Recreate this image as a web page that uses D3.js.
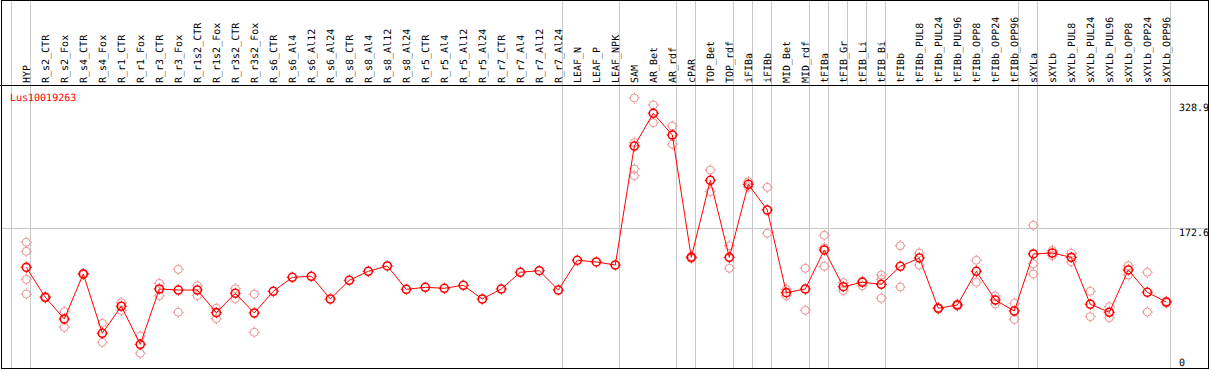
<!DOCTYPE html>
<html>
<head>
<meta charset="utf-8">
<script src="https://cdn.jsdelivr.net/npm/d3@7"></script>
<style>
  body { margin: 0; background: #fff; }
  svg { display: block; }
  text { font-family: "DejaVu Sans Mono", monospace; font-size: 10px; text-rendering: geometricPrecision; }
</style>
</head>
<body>
<svg id="chart"></svg>
<script>
// sample names (columns)
let samples = ['HYP','R_s2_CTR','R_s2_Fox','R_s4_CTR','R_s4_Fox','R_r1_CTR','R_r1_Fox','R_r3_CTR','R_r3_Fox',
  'R_r1s2_CTR','R_r1s2_Fox','R_r3s2_CTR','R_r3s2_Fox','R_s6_CTR','R_s6_Al4','R_s6_Al12','R_s6_Al24',
  'R_s8_CTR','R_s8_Al4','R_s8_Al12','R_s8_Al24','R_r5_CTR','R_r5_Al4','R_r5_Al12','R_r5_Al24',
  'R_r7_CTR','R_r7_Al4','R_r7_Al12','R_r7_Al24','LEAF_N','LEAF_P','LEAF_NPK','SAM','AR_Bet','AR_rdf',
  'cPAR','TOP_Bet','TOP_rdf','iFIBa','iFIBb','MID_Bet','MID_rdf','tFIBa','tFIB_Gr','tFIB_Li','tFIB_Bi',
  'tFIBb','tFIBb_PUL8','tFIBb_PUL24','tFIBb_PUL96','tFIBb_OPP8','tFIBb_OPP24','tFIBb_OPP96',
  'sXYLa','sXYLb','sXYLb_PUL8','sXYLb_PUL24','sXYLb_PUL96','sXYLb_OPP8','sXYLb_OPP24','sXYLb_OPP96'];

// mean expression per sample
let means = [123.4, 85.9, 58.8, 115.1, 40.9, 74.7, 27.1, 96.3, 95.0,
  95.0, 66.7, 90.9, 66.3, 93.4, 110.9, 112.2, 83.8,
  107.2, 118.4, 125.1, 95.9, 98.4, 97.2, 100.9, 83.8,
  96.3, 117.2, 119.2, 95.0, 132.2, 130.1, 126.3, 275.1, 316.0, 288.9,
  135.9, 232.2, 135.9, 227.2, 195.1, 91.7, 96.3, 145.1, 99.2, 104.7, 102.2,
  124.7, 135.1, 72.2, 76.3, 118.4, 82.5, 68.8,
  140.1, 141.3, 135.9, 77.2, 67.2, 120.1, 92.2, 80.0];

// replicate values per sample
let reps = [
  [154.7, 143.4, 108.4, 90.0], [86.7, 85.0], [67.9, 48.4], [115.9, 114.2], [53.4, 29.6],
  [79.2, 69.2], [37.5, 15.9], [103.4, 87.9], [120.9, 67.2], [100.4, 87.9], [72.2, 59.2],
  [96.7, 84.2], [90.0, 42.1], [], [], [], [], [], [], [], [], [], [], [], [], [], [], [], [],
  [], [], [], [335.2, 279.3, 246.4, 238.0], [326.4, 304.3], [300.1, 277.3],
  [137.2, 134.6], [245.1, 218.0], [150.4, 122.2], [230.5, 224.2], [223.5, 166.0],
  [95.9, 87.9], [122.2, 69.7], [163.5, 147.9, 124.7], [104.2, 94.2], [100.4, 106.3],
  [113.8, 108.4, 84.7], [150.4, 98.8], [141.3, 126.3], [73.0, 71.3], [77.5, 75.0],
  [132.2, 104.7], [87.5, 77.5], [78.4, 58.4],
  [176.0, 127.9, 115.1], [144.5, 138.0], [140.9, 130.4], [93.4, 61.7], [74.2, 60.4],
  [125.4, 113.8], [117.2, 67.5], [81.0, 79.0]];

let geneName = 'Lus10019263';
let axisTicks = [0, 172.6, 328.9];
let gridValues = [172.6];
// group separators: full-height after these samples, header-only after the others
let groupEnds = ['HYP','R_r7_Al24','LEAF_NPK','AR_rdf','cPAR','TOP_rdf','iFIBa','iFIBb','MID_rdf','tFIBa','tFIB_Bi','tFIBb_OPP96','sXYLa','sXYLb_OPP96'];
let headerEnds = ['tFIB_Gr','tFIB_Li'];

let W = 1209, H = 370;
let headerH = 85;

let svg = d3.select('#chart')
            .attr('width', W)
            .attr('height', H);

// scales
let xScale = d3.scaleBand()
               .domain(samples)
               .range([11, 11 + samples.length * 19]);
let px = d => xScale(d) + 15.3;

let yScale = d3.scaleLinear()
               .domain([0, 328.9])
               .range([366, 103]);

let crisp = 'crispEdges';

// vertical separators
svg.append('g')
   .selectAll('line')
   .data(groupEnds)
   .enter()
   .append('line')
   .attr('x1', d => Math.round(px(d) + 4) + 0.5)
   .attr('x2', d => Math.round(px(d) + 4) + 0.5)
   .attr('y1', 0)
   .attr('y2', 368)
   .attr('stroke', '#c8c8c8')
   .attr('shape-rendering', crisp);

svg.append('g')
   .selectAll('line')
   .data(headerEnds)
   .enter()
   .append('line')
   .attr('x1', d => Math.round(px(d) + 4) + 0.5)
   .attr('x2', d => Math.round(px(d) + 4) + 0.5)
   .attr('y1', 0)
   .attr('y2', headerH)
   .attr('stroke', '#c8c8c8')
   .attr('shape-rendering', crisp);

// left edge line of first column
svg.append('line')
   .attr('x1', 11.5).attr('x2', 11.5)
   .attr('y1', 0).attr('y2', 368)
   .attr('stroke', '#c8c8c8')
   .attr('shape-rendering', crisp);

// horizontal grid
svg.append('g')
   .selectAll('line')
   .data(gridValues)
   .enter()
   .append('line')
   .attr('x1', 1)
   .attr('x2', 1208)
   .attr('y1', d => Math.round(yScale(d)) + 0.5)
   .attr('y2', d => Math.round(yScale(d)) + 0.5)
   .attr('stroke', '#c8c8c8')
   .attr('shape-rendering', crisp);

// header labels (rotated)
svg.append('g')
   .selectAll('text')
   .data(samples)
   .enter()
   .append('text')
   .attr('transform', d => 'translate(' + (px(d) + 3.2) + ',' + 83 + ') rotate(-90)')
   .attr('fill', '#000')
   .text(d => d);

// header bottom line and border
svg.append('line')
   .attr('x1', 0).attr('x2', 1208)
   .attr('y1', headerH + 0.5).attr('y2', headerH + 0.5)
   .attr('stroke', '#000')
   .attr('shape-rendering', crisp);

svg.append('rect')
   .attr('x', 1.5).attr('y', 0.5)
   .attr('width', 1207).attr('height', 368)
   .attr('fill', 'none')
   .attr('stroke', '#000')
   .attr('shape-rendering', crisp);

// gene name
svg.append('text')
   .attr('x', 10)
   .attr('y', 101)
   .attr('fill', '#ff0000')
   .text(geneName);

// right axis labels
svg.append('g')
   .selectAll('text')
   .data(axisTicks)
   .enter()
   .append('text')
   .attr('x', 1179)
   .attr('y', d => Math.min(yScale(d) + 7.8, 365.5))
   .attr('fill', '#000')
   .text(d => d);

// tick marks around a circle (pixel look)
let drawMarker = (g, x, y, color, sw) => {
    g.append('circle')
     .attr('cx', x).attr('cy', y).attr('r', 4)
     .attr('fill', 'none')
     .attr('stroke', color)
     .attr('stroke-width', sw);
    [[0, -1], [0, 1], [-1, 0], [1, 0]].forEach(function(o) {
        g.append('line')
         .attr('x1', x + o[0] * 4).attr('y1', y + o[1] * 4)
         .attr('x2', x + o[0] * 5.6).attr('y2', y + o[1] * 5.6)
         .attr('stroke', color)
         .attr('stroke-width', 1);
    });
};

// replicates
let repG = svg.append('g');
samples.forEach(function(s, i) {
    reps[i].forEach(function(v) {
        drawMarker(repG, px(s), yScale(v), '#ee9090', 1);
    });
});

// mean line
let line = d3.line()
             .x((d, i) => px(samples[i]))
             .y(d => yScale(d));

svg.append('path')
   .datum(means)
   .attr('d', line)
   .attr('fill', 'none')
   .attr('stroke', '#ff0000')
   .attr('stroke-width', 1);

// mean markers
let meanG = svg.append('g');
samples.forEach(function(s, i) {
    drawMarker(meanG, px(s), yScale(means[i]), '#ff0000', 1.6);
});
</script>
</body>
</html>
